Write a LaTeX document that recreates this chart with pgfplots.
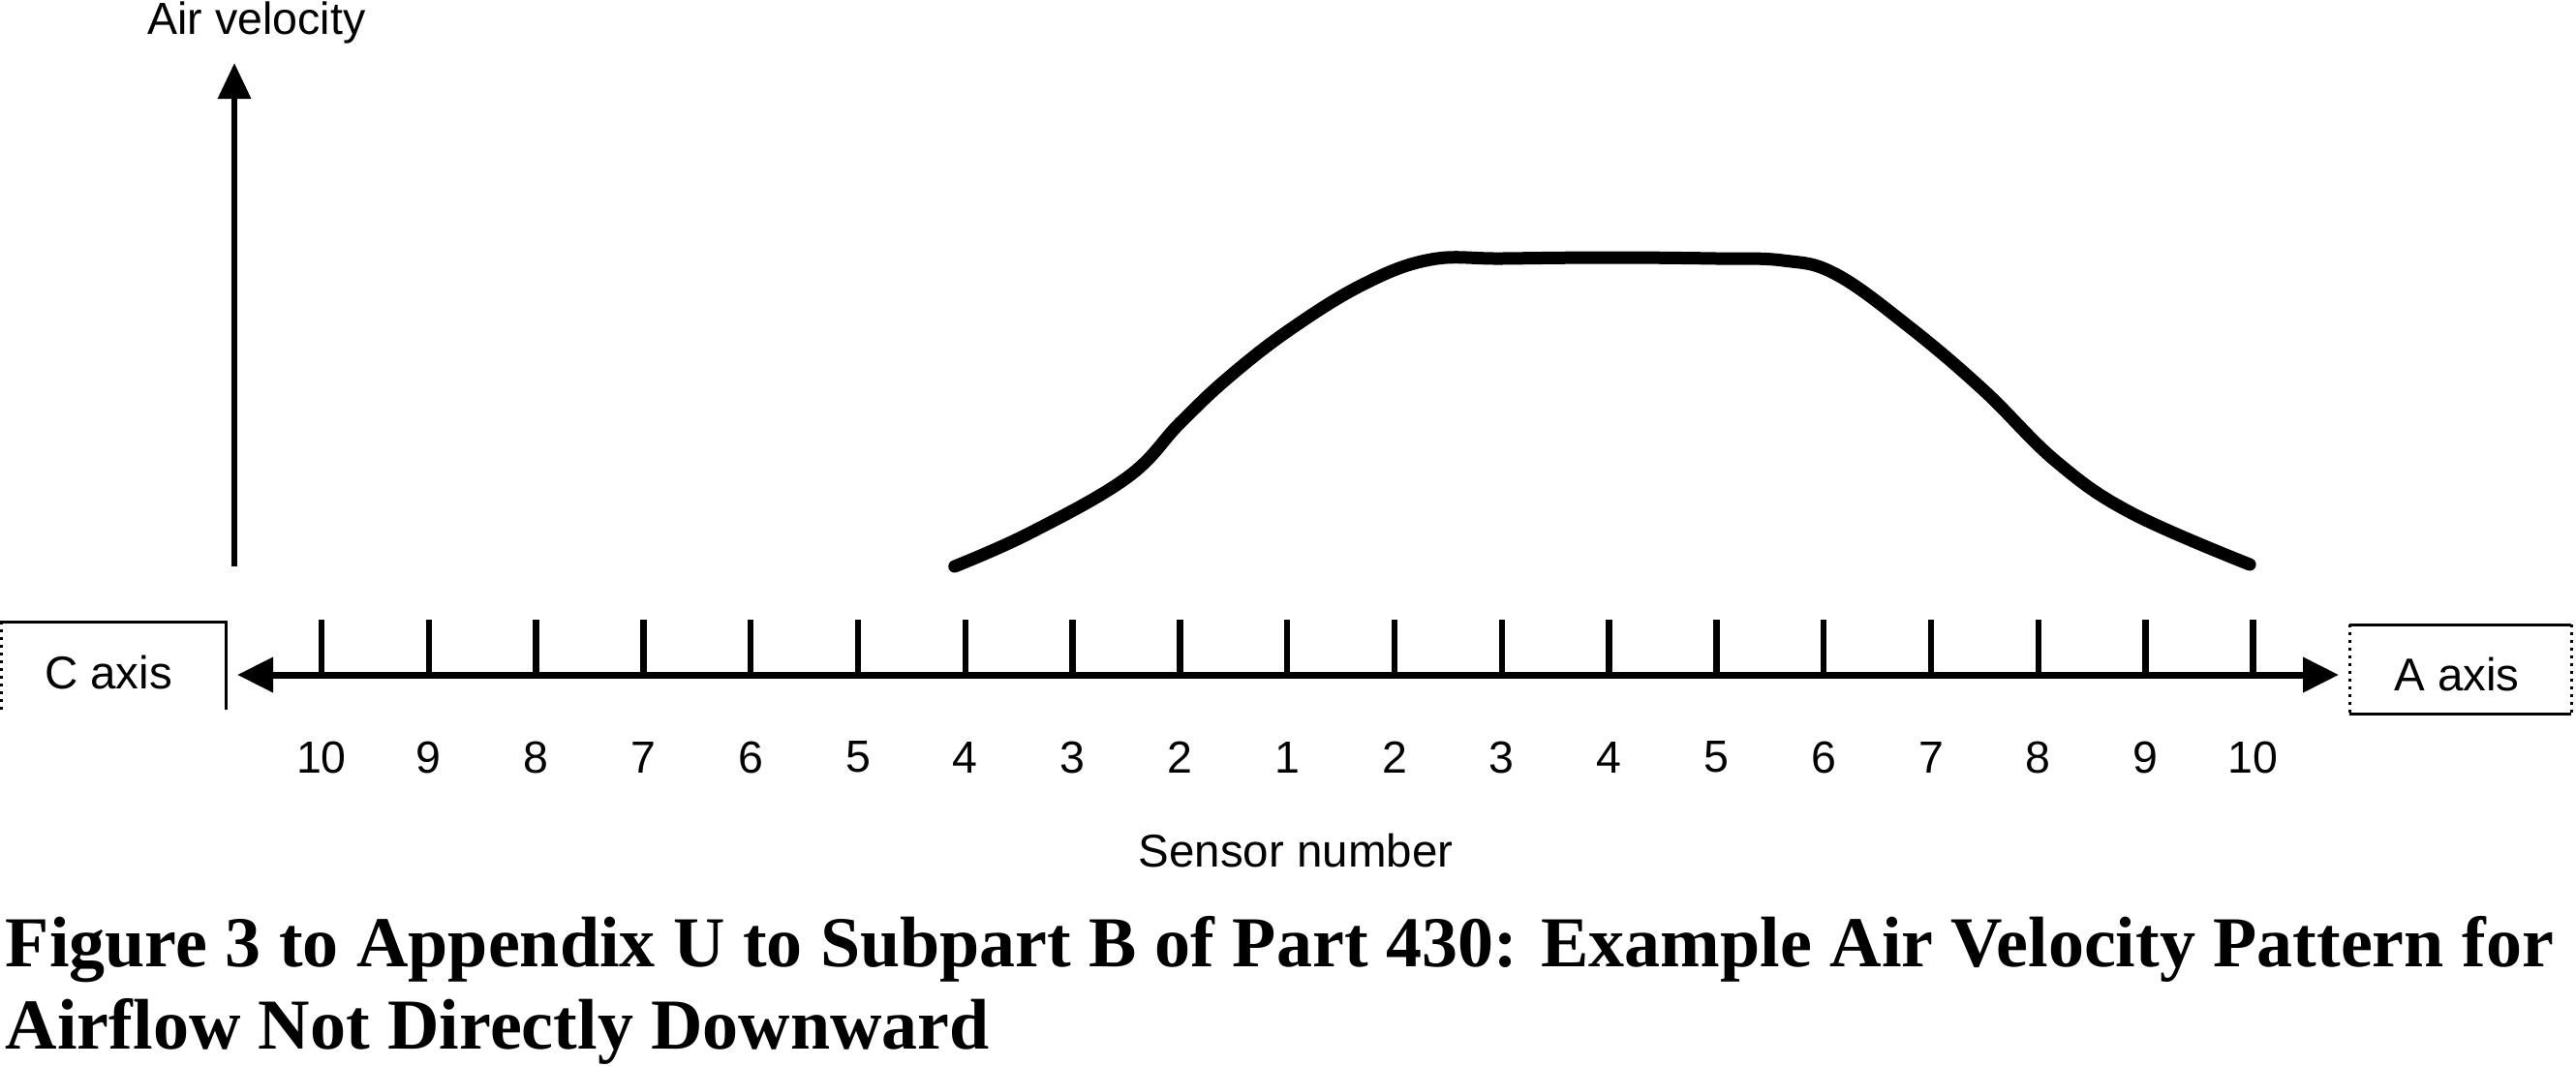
\documentclass[border=0pt]{standalone}
\usepackage{fontspec}
\setmainfont{Liberation Serif}
\setsansfont{Liberation Sans}
\usepackage{pgfplots}
\pgfplotsset{compat=1.18}
\usetikzlibrary{arrows.meta}

\pgfplotstableread{
x y
5.90 112
6.61 147
7.51 204
8.00 260
8.45 307
9.03 357
9.72 404
10.34 429
11.00 430
12.00 431
13.00 430
13.62 428
14.11 414
14.79 360
15.49 294
16.17 220
16.87 167
17.97 114
}\velocity

\begin{document}
\begin{tikzpicture}
\useasboundingbox (-66.4pt,-80.6pt) rectangle (465.6pt,139.4pt);
\begin{axis}[
  anchor=origin, x=22.16pt, y=0.2pt,
  xmin=-0.785, xmax=18.8, ymin=0, ymax=632,
  axis x line=bottom, axis y line=none,
  x axis line style={line width=1.4pt,
    {Triangle[length=7.4pt,width=7pt]}-{Triangle[length=7.4pt,width=7pt]}},
  xtick={0,...,18},
  xticklabels={10,9,8,7,6,5,4,3,2,1,2,3,4,5,6,7,8,9,10},
  tick align=inside, major tick length=11.4pt,
  every tick/.style={line width=1.3pt, black},
  xticklabel style={font=\sffamily\fontsize{9.3}{11}\selectfont, anchor=center, yshift=-17pt},
  clip=false,
]
\addplot[line width=2.6pt, line cap=round, line join=round, smooth, tension=0.65] table {\velocity};
\draw[line width=1.3pt, -{Triangle[length=7.4pt,width=6.6pt]}] (axis cs:-0.812,112) -- (axis cs:-0.812,632);
\end{axis}
% labels
\node[font=\sffamily\fontsize{9.3}{11}\selectfont, anchor=base, inner sep=0] at (-13.4pt,132.2pt) {Air velocity};
\node[font=\sffamily\fontsize{9.5}{11}\selectfont, anchor=center, inner sep=0] at (201.2pt,-36.4pt) {Sensor number};
% C axis box
\draw[line width=0.6pt] (-66.4pt,11pt) -- (-19.8pt,11pt) -- (-19.8pt,-7.2pt);
\draw[line width=0.6pt, densely dotted] (-66pt,11pt) -- (-66pt,-7.2pt);
\node[font=\sffamily\fontsize{9.5}{11}\selectfont, inner sep=0] at (-44pt,0.5pt) {C axis};
% A axis box
\draw[line width=0.6pt] (418.8pt,10.4pt) -- (464.6pt,10.4pt);
\draw[line width=0.6pt] (418.8pt,-8pt) -- (464.6pt,-8pt);
\draw[line width=0.6pt, densely dotted] (418.8pt,10.4pt) -- (418.8pt,-8pt);
\draw[line width=0.6pt, densely dotted] (464.6pt,10.4pt) -- (464.6pt,-8pt);
\node[font=\sffamily\fontsize{9.5}{11}\selectfont, inner sep=0] at (441pt,0pt) {A axis};
% caption
\node[font=\bfseries\fontsize{14.8}{17}\selectfont, anchor=base west, inner sep=0] at (-65.4pt,-60.2pt) {Figure 3 to Appendix U to Subpart B of Part 430: Example Air Velocity Pattern for};
\node[font=\bfseries\fontsize{14.8}{17}\selectfont, anchor=base west, inner sep=0] at (-65.4pt,-77.2pt) {Airflow Not Directly Downward};
\end{tikzpicture}
\end{document}
